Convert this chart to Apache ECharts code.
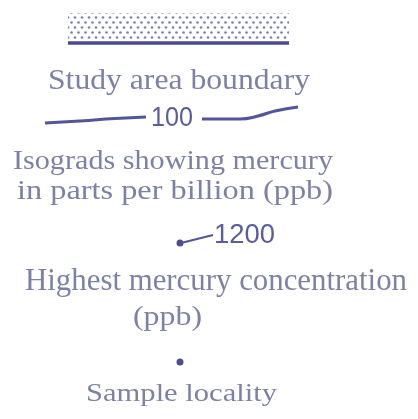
<!DOCTYPE html>
<html>
<head>
<meta charset="utf-8">
<script src="https://cdn.jsdelivr.net/npm/echarts@6/dist/echarts.min.js"></script>
<style>
html,body{margin:0;padding:0;background:#fff;}
#chart{width:418px;height:419px;}
</style>
</head>
<body>
<div id="chart"></div>
<script>
// ---- legend content ----
const legendTexts = [
  'Study area boundary',
  'Isograds showing mercury',
  'in parts per billion (ppb)',
  'Highest mercury concentration',
  '(ppb)',
  'Sample locality'
];
const isogradLabel = '100';
const highestLabel = '1200';

// ---- symbol geometry (in legend plot units) ----
const isogradLeft  = [[45,123],[80,121],[115,118.5],[146,117]];
const isogradRight = [[202,119],[240,119],[258,116],[275,111],[298,107]];
const boundaryLine = [[68,43],[289,43]];
const leaderLine   = [[181,243],[213,235]];
const pointMarks   = [[180,243],[180,362]];
const stippleBox   = [[68,13],[289,41]];

// ---- layout of text (left x, baseline y, font size, target width) ----
const textLayout = [
  {x:48,  base:90,  size:30, w:262},
  {x:13,  base:170, size:27, w:320},
  {x:17,  base:200, size:27, w:316},
  {x:25,  base:291, size:31, w:382},
  {x:133, base:326, size:28, w:69},
  {x:86,  base:402, size:26, w:191}
];
const numLayout = [
  {text:isogradLabel, x:151, base:127, size:27, w:42},
  {text:highestLabel, x:214, base:244, size:27, w:61}
];

const TEXT_COLOR = '#7c81a6';
const LINE_COLOR = '#53559a';
const NUM_COLOR  = '#5a5c9c';

const chart = echarts.init(document.getElementById('chart'), null, {renderer:'canvas'});

const mctx = document.createElement('canvas').getContext('2d');
function measure(t, font){ mctx.font = font; return mctx.measureText(t).width; }

// stipple pattern
const pat = document.createElement('canvas');
pat.width = 7; pat.height = 10;
const pc = pat.getContext('2d');
pc.fillStyle = '#7d82b2';
[[1.5,2.5],[5,7.5]].forEach(p=>{pc.beginPath();pc.arc(p[0],p[1],1.35,0,Math.PI*2);pc.fill();});

chart.setOption({
  animation:false,
  grid:{left:0,right:0,top:0,bottom:0},
  xAxis:{type:'value',min:0,max:418,show:false},
  yAxis:{type:'value',min:0,max:419,inverse:true,show:false},
  series:[
    {type:'custom', renderItem:function(params, api){
        const a = api.coord(stippleBox[0]), b = api.coord(stippleBox[1]);
        return {type:'rect', shape:{x:a[0],y:a[1],width:b[0]-a[0],height:b[1]-a[1]},
          style:{fill:{image:pat, repeat:'repeat'}}};
      }, data:[0], silent:true},
    {type:'line', data:boundaryLine, symbol:'none', lineStyle:{color:'#4a4c8f',width:3.5}},
    {type:'line', data:isogradLeft, smooth:true, symbol:'none', lineStyle:{color:LINE_COLOR,width:3.2}},
    {type:'line', data:isogradRight, smooth:true, symbol:'none', lineStyle:{color:LINE_COLOR,width:3.2}},
    {type:'line', data:leaderLine, symbol:'none', lineStyle:{color:LINE_COLOR,width:2}},
    {type:'scatter', data:pointMarks, symbolSize:7, itemStyle:{color:'#4c4e90',opacity:1}}
  ]
});

const graphics = [];
legendTexts.forEach((t,i)=>{
  const L = textLayout[i];
  const font = L.size + 'px "Liberation Serif"';
  const sx = L.w / measure(t, font);
  graphics.push({type:'text', x:L.x, y:L.base - 0.3*L.size, scaleX:sx,
    style:{text:t, font:font, fill:TEXT_COLOR, align:'left', verticalAlign:'middle'}});
});
numLayout.forEach(L=>{
  const font = L.size + 'px "Liberation Sans"';
  const sx = L.w / measure(L.text, font);
  graphics.push({type:'text', x:L.x, y:L.base - 0.33*L.size, scaleX:sx,
    style:{text:L.text, font:font, fill:NUM_COLOR, align:'left', verticalAlign:'middle'}});
});
chart.setOption({graphic:graphics});
</script>
</body>
</html>
